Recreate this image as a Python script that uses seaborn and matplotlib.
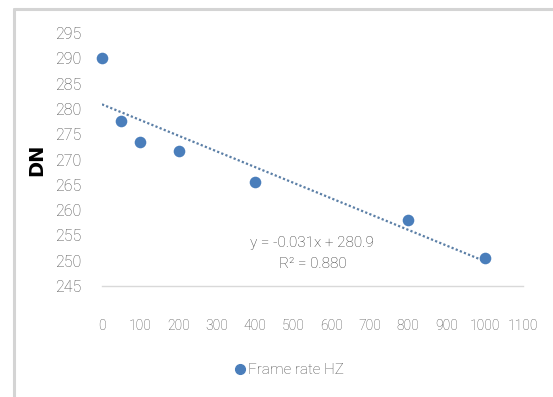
import matplotlib
matplotlib.use("Agg")
import matplotlib.pyplot as plt
import seaborn as sns
import numpy as np
import pandas as pd
from matplotlib.lines import Line2D

# Measured frame rates and digital number readings
frame_rate = [0, 50, 100, 200, 400, 800, 1000]
dn_values = [290.0, 277.6, 273.4, 271.7, 265.6, 258.0, 250.5]

# Linear trendline reported for the series
slope = -0.031
intercept = 280.9
r_squared = 0.880

x_ticks = [0, 100, 200, 300, 400, 500, 600, 700, 800, 900, 1000, 1100]
y_ticks = [245, 250, 255, 260, 265, 270, 275, 280, 285, 290, 295]

sns.set_theme(style="white")
plt.rcParams["font.family"] = ["Roboto", "DejaVu Sans"]
plt.rcParams["font.weight"] = "light"

W, H = 553, 397
fig = plt.figure(figsize=(W / 100, H / 100), dpi=100)
fig.patch.set_facecolor("white")

# Chart frame border (top and left)
fig.add_artist(Line2D([14 / W, 1], [1 - 9 / H, 1 - 9 / H], transform=fig.transFigure,
                      color="#d4d4d4", lw=2.2))
fig.add_artist(Line2D([14 / W, 14 / W], [0, 1 - 9 / H], transform=fig.transFigure,
                      color="#d4d4d4", lw=2.2))

ax = fig.add_axes([102 / W, (H - 286) / H, (523 - 102) / W, (286 - 33) / H])

df = pd.DataFrame({"Frame rate HZ": frame_rate, "DN": dn_values})
point_color = "#4a7ebb"
sns.scatterplot(data=df, x="Frame rate HZ", y="DN", ax=ax, color=point_color,
                s=70, edgecolor=point_color, linewidth=0, clip_on=False, zorder=3)

# Dotted linear trendline
trend_x = np.array([min(frame_rate), max(frame_rate)])
ax.plot(trend_x, slope * trend_x + intercept, linestyle=(0, (1, 1)),
        color="#5b7fa6", lw=1.6, zorder=2)

ax.text(548, 253.5, f"y = {slope}x + {intercept}", ha="center", va="center",
        fontsize=11, color="#333333")
ax.text(552, 249.4, f"R² = {r_squared:.3f}", ha="center", va="center",
        fontsize=11, color="#333333")

ax.set_xlim(0, 1100)
ax.set_ylim(245, 295)
ax.set_xticks(x_ticks)
ax.set_yticks(y_ticks)
ax.tick_params(axis="x", length=0, pad=24, labelsize=10, labelcolor="#4d4d4d")
ax.tick_params(axis="y", length=0, pad=15, labelsize=11.5, labelcolor="#4d4d4d")

for side in ["top", "right", "left"]:
    ax.spines[side].set_visible(False)
ax.spines["bottom"].set_color("#d9d9d9")
ax.spines["bottom"].set_linewidth(1.0)

ax.set_xlabel("")
ax.set_ylabel("DN", fontsize=14, fontweight="bold", color="black",
              family=["DejaVu Sans"], labelpad=6)

# Legend below the plot
handle = Line2D([], [], marker="o", linestyle="", color=point_color, markersize=7)
fig.legend([handle], ["Frame rate HZ"], loc="center", bbox_to_anchor=(288 / W, 1 - 370 / H),
           frameon=False, fontsize=11, handletextpad=0.0, labelcolor="#4d4d4d",
           handlelength=1.0)

fig.savefig("out.png", dpi=100, facecolor="white")
